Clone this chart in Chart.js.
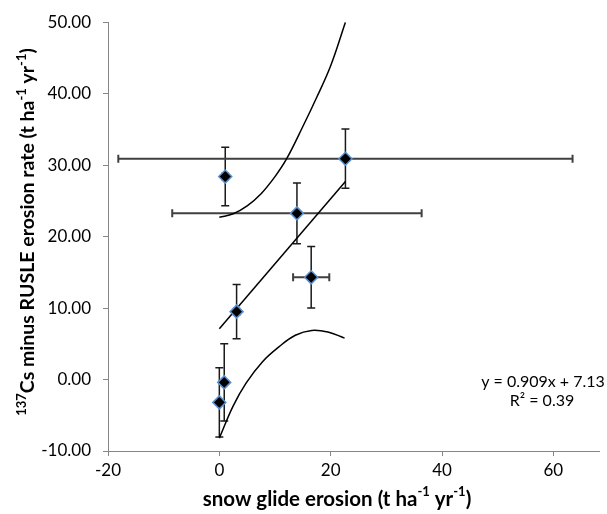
<!DOCTYPE html>
<html>
<head>
<meta charset="utf-8">
<script src="https://cdn.jsdelivr.net/npm/chart.js@4"></script>
<style>
  html, body { margin: 0; padding: 0; background: #fff; }
  #wrap { width: 607px; height: 514px; }
</style>
</head>
<body>
<div id="wrap"><canvas id="myChart" width="607" height="514"></canvas></div>
<script>
// measured points
let pointX = [1.06, 22.65, 13.94, 16.5, 3.1, 0.88, 0.0];
let pointY = [28.4, 30.9, 23.25, 14.3, 9.5, -0.4, -3.2];
let errX = [0.5, 40.8, 22.4, 3.25, 0.5, 0, 0];
let errY = [4.1, 4.15, 4.25, 4.3, 3.8, 5.4, 4.85];

// trend line y = 0.909x + 7.13
let trendX = [0, 22.65];
let trendY = [7.1, 27.7];

// band curves
let upperX = [0, 2.5, 5, 7.5, 10, 12.1, 15, 17.5, 20, 22.65];
let upperY = [22.7, 23.2, 24.3, 26.0, 28.4, 30.9, 35.4, 39.5, 43.9, 50.0];
let lowerX = [0, 2.47, 4.8, 7.76, 10.7, 13.65, 16.6, 19.5, 22.5];
let lowerY = [-8.2, -3.73, -0.5, 2.5, 4.57, 6.2, 6.87, 6.64, 5.8];

let xTicks = [-20, 0, 20, 40, 60];
let yTicks = [-10, 0, 10, 20, 30, 40, 50];

function toXY(xa, ya) {
  return xa.map((x, i) => ({x: x, y: ya[i]}));
}

function drawRich(ctx, parts, x, y, rot, size) {
  ctx.save();
  ctx.translate(x, y);
  ctx.rotate(rot);
  const big = 'bold ' + size + 'px Lato';
  const small = 'bold ' + Math.round(size * 0.65) + 'px Lato';
  let w = 0;
  parts.forEach(p => {
    ctx.font = p.sup ? small : big;
    w += ctx.measureText(p.t).width;
  });
  let cx = -w / 2;
  ctx.fillStyle = '#000';
  ctx.textBaseline = 'middle';
  ctx.textAlign = 'left';
  parts.forEach(p => {
    ctx.font = p.sup ? small : big;
    ctx.fillText(p.t, cx, p.sup ? -size * 0.33 : 0);
    cx += ctx.measureText(p.t).width;
  });
  ctx.restore();
}

const extras = {
  id: 'extras',
  beforeDatasetsDraw(chart) {
    const ctx = chart.ctx;
    const xs = chart.scales.x, ys = chart.scales.y;
    ctx.save();
    for (let i = 0; i < pointX.length; i++) {
      const px = xs.getPixelForValue(pointX[i]);
      const py = ys.getPixelForValue(pointY[i]);
      if (errY[i] > 0) {
        const t = ys.getPixelForValue(pointY[i] + errY[i]);
        const b = ys.getPixelForValue(pointY[i] - errY[i]);
        ctx.strokeStyle = '#1a1a1a';
        ctx.lineWidth = 1.5;
        ctx.beginPath();
        ctx.moveTo(px, t); ctx.lineTo(px, b);
        ctx.moveTo(px - 4, t); ctx.lineTo(px + 4, t);
        ctx.moveTo(px - 4, b); ctx.lineTo(px + 4, b);
        ctx.stroke();
      }
      if (errX[i] > 0) {
        const l = xs.getPixelForValue(pointX[i] - errX[i]);
        const r = xs.getPixelForValue(pointX[i] + errX[i]);
        ctx.strokeStyle = '#404040';
        ctx.lineWidth = 2;
        ctx.beginPath();
        ctx.moveTo(l, py); ctx.lineTo(r, py);
        ctx.moveTo(l, py - 4); ctx.lineTo(l, py + 4);
        ctx.moveTo(r, py - 4); ctx.lineTo(r, py + 4);
        ctx.stroke();
      }
    }
    ctx.restore();
  },
  afterDraw(chart) {
    const ctx = chart.ctx;
    drawRich(ctx, [
      {t: '137', sup: true}, {t: 'Cs minus RUSLE erosion rate (t ha'},
      {t: '-1', sup: true}, {t: ' yr'}, {t: '-1', sup: true}, {t: ')'}
    ], 28, 232, -Math.PI / 2, 19.5);
    drawRich(ctx, [
      {t: 'snow glide erosion (t ha'}, {t: '-1', sup: true}, {t: ' yr'},
      {t: '-1', sup: true}, {t: ')'}
    ], 337, 499, 0, 20.5);
    ctx.save();
    ctx.font = '16px Lato';
    ctx.fillStyle = '#000';
    ctx.textAlign = 'center';
    ctx.textBaseline = 'middle';
    ctx.fillText('y = 0.909x + 7.13', 543, 382);
    ctx.fillText('R\u00b2 = 0.39', 542, 401);
    ctx.restore();
  }
};

const ctx = document.getElementById('myChart');

new Chart(ctx, {
  type: 'scatter',
  data: {
    datasets: [
      {
        label: 'points',
        data: toXY(pointX, pointY),
        pointStyle: 'rectRot',
        pointRadius: 6.5,
        backgroundColor: '#000',
        borderColor: '#5b8fd0',
        borderWidth: 1.5,
        order: 0
      },
      {
        label: 'trend',
        data: toXY(trendX, trendY),
        showLine: true,
        pointRadius: 0,
        borderColor: '#000',
        borderWidth: 1.5,
        order: 1
      },
      {
        label: 'upper',
        data: toXY(upperX, upperY),
        showLine: true,
        pointRadius: 0,
        borderColor: '#000',
        borderWidth: 1.5,
        tension: 0.4,
        order: 1
      },
      {
        label: 'lower',
        data: toXY(lowerX, lowerY),
        showLine: true,
        pointRadius: 0,
        borderColor: '#000',
        borderWidth: 1.5,
        tension: 0.4,
        order: 1
      }
    ]
  },
  options: {
    responsive: false,
    animation: false,
    layout: { padding: { top: 16, right: 0, bottom: 0, left: 0 } },
    plugins: { legend: { display: false }, tooltip: { enabled: false } },
    scales: {
      x: {
        type: 'linear',
        min: -20,
        max: 68.2,
        afterBuildTicks: s => { s.ticks = xTicks.map(v => ({value: v})); },
        afterFit: s => { s.height = 63; },
        grid: { drawOnChartArea: false, color: '#868686', tickLength: 5 },
        border: { color: '#868686', width: 1 },
        ticks: { font: { family: 'Lato', size: 17 }, color: '#000', padding: 4, maxRotation: 0 }
      },
      y: {
        type: 'linear',
        min: -10,
        max: 50,
        afterBuildTicks: s => { s.ticks = yTicks.map(v => ({value: v})); },
        afterFit: s => { s.width = 108; },
        grid: { drawOnChartArea: false, color: '#868686', tickLength: 5 },
        border: { color: '#868686', width: 1 },
        ticks: { font: { family: 'Lato', size: 17 }, color: '#000', padding: 12,
                 callback: v => v.toFixed(2) }
      }
    }
  },
  plugins: [extras]
});
</script>
</body>
</html>
